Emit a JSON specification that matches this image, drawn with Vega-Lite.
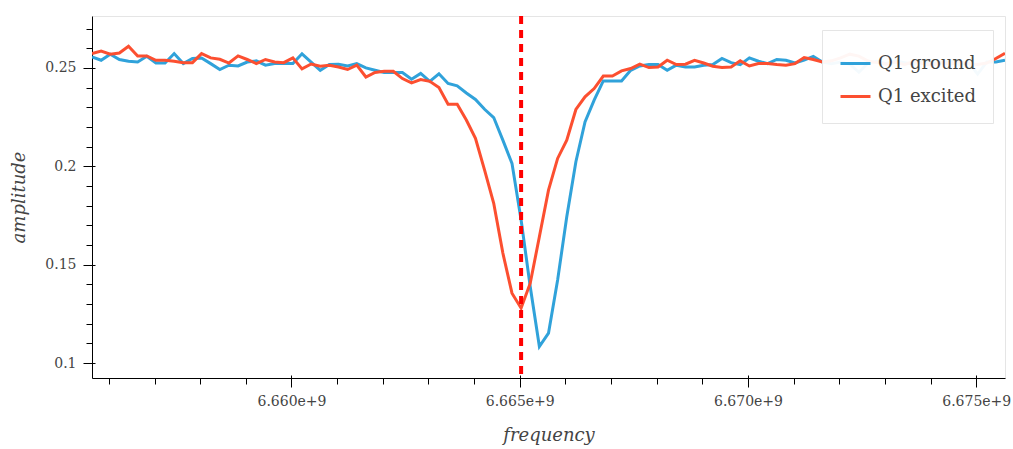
{
  "$schema": "https://vega.github.io/schema/vega-lite/v6.json",
  "width": 913,
  "height": 362,
  "autosize": {"type": "none"},
  "padding": {"left": 92, "top": 16, "right": 8, "bottom": 71},
  "background": "white",
  "config": {
    "view": {"stroke": "#e5e5e5", "strokeWidth": 1},
    "font": "DejaVu Serif",
    "axis": {"grid": false, "domainColor": "#000000", "tickColor": "#000000", "labelFont": "DejaVu Serif", "labelFontSize": 14, "labelColor": "#444444", "titleFont": "DejaVu Serif", "titleFontSize": 18, "titleFontStyle": "italic", "titleFontWeight": "normal", "titleColor": "#444444"}
  },
  "data": {
    "values": [
      {"f": 6655630000, "Q1 ground": 0.2556, "Q1 excited": 0.2573},
      {"f": 6655830000, "Q1 ground": 0.2539, "Q1 excited": 0.2586},
      {"f": 6656030000, "Q1 ground": 0.2570, "Q1 excited": 0.2570},
      {"f": 6656230000, "Q1 ground": 0.2543, "Q1 excited": 0.2576},
      {"f": 6656430000, "Q1 ground": 0.2534, "Q1 excited": 0.2610},
      {"f": 6656630000, "Q1 ground": 0.2530, "Q1 excited": 0.2561},
      {"f": 6656830000, "Q1 ground": 0.2559, "Q1 excited": 0.2561},
      {"f": 6657030000, "Q1 ground": 0.2525, "Q1 excited": 0.2539},
      {"f": 6657230000, "Q1 ground": 0.2525, "Q1 excited": 0.2539},
      {"f": 6657430000, "Q1 ground": 0.2573, "Q1 excited": 0.2534},
      {"f": 6657630000, "Q1 ground": 0.2522, "Q1 excited": 0.2527},
      {"f": 6657830000, "Q1 ground": 0.2548, "Q1 excited": 0.2527},
      {"f": 6658030000, "Q1 ground": 0.2551, "Q1 excited": 0.2573},
      {"f": 6658230000, "Q1 ground": 0.2522, "Q1 excited": 0.2551},
      {"f": 6658430000, "Q1 ground": 0.2492, "Q1 excited": 0.2544},
      {"f": 6658630000, "Q1 ground": 0.2514, "Q1 excited": 0.2525},
      {"f": 6658830000, "Q1 ground": 0.2510, "Q1 excited": 0.2561},
      {"f": 6659030000, "Q1 ground": 0.2530, "Q1 excited": 0.2543},
      {"f": 6659230000, "Q1 ground": 0.2536, "Q1 excited": 0.2522},
      {"f": 6659430000, "Q1 ground": 0.2514, "Q1 excited": 0.2543},
      {"f": 6659630000, "Q1 ground": 0.2522, "Q1 excited": 0.2530},
      {"f": 6659830000, "Q1 ground": 0.2522, "Q1 excited": 0.2527},
      {"f": 6660030000, "Q1 ground": 0.2522, "Q1 excited": 0.2551},
      {"f": 6660230000, "Q1 ground": 0.2572, "Q1 excited": 0.2495},
      {"f": 6660430000, "Q1 ground": 0.2530, "Q1 excited": 0.2520},
      {"f": 6660630000, "Q1 ground": 0.2488, "Q1 excited": 0.2509},
      {"f": 6660830000, "Q1 ground": 0.2517, "Q1 excited": 0.2514},
      {"f": 6661030000, "Q1 ground": 0.2519, "Q1 excited": 0.2505},
      {"f": 6661230000, "Q1 ground": 0.2510, "Q1 excited": 0.2492},
      {"f": 6661430000, "Q1 ground": 0.2522, "Q1 excited": 0.2514},
      {"f": 6661630000, "Q1 ground": 0.2500, "Q1 excited": 0.2454},
      {"f": 6661830000, "Q1 ground": 0.2488, "Q1 excited": 0.2477},
      {"f": 6662030000, "Q1 ground": 0.2477, "Q1 excited": 0.2483},
      {"f": 6662230000, "Q1 ground": 0.2477, "Q1 excited": 0.2483},
      {"f": 6662430000, "Q1 ground": 0.2477, "Q1 excited": 0.2446},
      {"f": 6662630000, "Q1 ground": 0.2443, "Q1 excited": 0.2424},
      {"f": 6662830000, "Q1 ground": 0.2472, "Q1 excited": 0.2441},
      {"f": 6663030000, "Q1 ground": 0.2432, "Q1 excited": 0.2432},
      {"f": 6663230000, "Q1 ground": 0.2470, "Q1 excited": 0.2400},
      {"f": 6663430000, "Q1 ground": 0.2421, "Q1 excited": 0.2316},
      {"f": 6663630000, "Q1 ground": 0.2409, "Q1 excited": 0.2316},
      {"f": 6663830000, "Q1 ground": 0.2373, "Q1 excited": 0.2235},
      {"f": 6664030000, "Q1 ground": 0.2340, "Q1 excited": 0.2142},
      {"f": 6664230000, "Q1 ground": 0.2290, "Q1 excited": 0.1981},
      {"f": 6664430000, "Q1 ground": 0.2248, "Q1 excited": 0.1812},
      {"f": 6664630000, "Q1 ground": 0.2133, "Q1 excited": 0.1559},
      {"f": 6664830000, "Q1 ground": 0.2015, "Q1 excited": 0.1355},
      {"f": 6665030000, "Q1 ground": 0.1727, "Q1 excited": 0.1279},
      {"f": 6665230000, "Q1 ground": 0.1388, "Q1 excited": 0.1406},
      {"f": 6665430000, "Q1 ground": 0.1084, "Q1 excited": 0.1642},
      {"f": 6665630000, "Q1 ground": 0.1152, "Q1 excited": 0.1879},
      {"f": 6665830000, "Q1 ground": 0.1422, "Q1 excited": 0.2040},
      {"f": 6666030000, "Q1 ground": 0.1744, "Q1 excited": 0.2133},
      {"f": 6666230000, "Q1 ground": 0.2023, "Q1 excited": 0.2289},
      {"f": 6666430000, "Q1 ground": 0.2226, "Q1 excited": 0.2353},
      {"f": 6666630000, "Q1 ground": 0.2336, "Q1 excited": 0.2395},
      {"f": 6666830000, "Q1 ground": 0.2434, "Q1 excited": 0.2459},
      {"f": 6667030000, "Q1 ground": 0.2434, "Q1 excited": 0.2459},
      {"f": 6667230000, "Q1 ground": 0.2434, "Q1 excited": 0.2485},
      {"f": 6667430000, "Q1 ground": 0.2488, "Q1 excited": 0.2497},
      {"f": 6667630000, "Q1 ground": 0.2510, "Q1 excited": 0.2519},
      {"f": 6667830000, "Q1 ground": 0.2517, "Q1 excited": 0.2502},
      {"f": 6668030000, "Q1 ground": 0.2517, "Q1 excited": 0.2505},
      {"f": 6668230000, "Q1 ground": 0.2488, "Q1 excited": 0.2539},
      {"f": 6668430000, "Q1 ground": 0.2514, "Q1 excited": 0.2517},
      {"f": 6668630000, "Q1 ground": 0.2505, "Q1 excited": 0.2519},
      {"f": 6668830000, "Q1 ground": 0.2505, "Q1 excited": 0.2539},
      {"f": 6669030000, "Q1 ground": 0.2514, "Q1 excited": 0.2525},
      {"f": 6669230000, "Q1 ground": 0.2517, "Q1 excited": 0.2509},
      {"f": 6669430000, "Q1 ground": 0.2548, "Q1 excited": 0.2502},
      {"f": 6669630000, "Q1 ground": 0.2527, "Q1 excited": 0.2505},
      {"f": 6669830000, "Q1 ground": 0.2517, "Q1 excited": 0.2536},
      {"f": 6670030000, "Q1 ground": 0.2551, "Q1 excited": 0.2510},
      {"f": 6670230000, "Q1 ground": 0.2534, "Q1 excited": 0.2522},
      {"f": 6670430000, "Q1 ground": 0.2522, "Q1 excited": 0.2522},
      {"f": 6670630000, "Q1 ground": 0.2543, "Q1 excited": 0.2517},
      {"f": 6670830000, "Q1 ground": 0.2539, "Q1 excited": 0.2514},
      {"f": 6671030000, "Q1 ground": 0.2525, "Q1 excited": 0.2522},
      {"f": 6671230000, "Q1 ground": 0.2540, "Q1 excited": 0.2553},
      {"f": 6671430000, "Q1 ground": 0.2559, "Q1 excited": 0.2543},
      {"f": 6671630000, "Q1 ground": 0.2530, "Q1 excited": 0.2530},
      {"f": 6671830000, "Q1 ground": 0.2522, "Q1 excited": 0.2536},
      {"f": 6672030000, "Q1 ground": 0.2530, "Q1 excited": 0.2551},
      {"f": 6672230000, "Q1 ground": 0.2519, "Q1 excited": 0.2570},
      {"f": 6672430000, "Q1 ground": 0.2478, "Q1 excited": 0.2560},
      {"f": 6672630000, "Q1 ground": 0.2525, "Q1 excited": 0.2535},
      {"f": 6672830000, "Q1 ground": 0.2534, "Q1 excited": 0.2527},
      {"f": 6673030000, "Q1 ground": 0.2522, "Q1 excited": 0.2519},
      {"f": 6673230000, "Q1 ground": 0.2536, "Q1 excited": 0.2530},
      {"f": 6673430000, "Q1 ground": 0.2527, "Q1 excited": 0.2517},
      {"f": 6673630000, "Q1 ground": 0.2519, "Q1 excited": 0.2534},
      {"f": 6673830000, "Q1 ground": 0.2540, "Q1 excited": 0.2522},
      {"f": 6674030000, "Q1 ground": 0.2522, "Q1 excited": 0.2514},
      {"f": 6674230000, "Q1 ground": 0.2530, "Q1 excited": 0.2527},
      {"f": 6674430000, "Q1 ground": 0.2536, "Q1 excited": 0.2519},
      {"f": 6674630000, "Q1 ground": 0.2518, "Q1 excited": 0.2530},
      {"f": 6674830000, "Q1 ground": 0.2527, "Q1 excited": 0.2522},
      {"f": 6675030000, "Q1 ground": 0.2469, "Q1 excited": 0.2517},
      {"f": 6675230000, "Q1 ground": 0.2530, "Q1 excited": 0.2525},
      {"f": 6675430000, "Q1 ground": 0.2530, "Q1 excited": 0.2548},
      {"f": 6675630000, "Q1 ground": 0.2539, "Q1 excited": 0.2575}
    ]
  },
  "transform": [{"fold": ["Q1 ground", "Q1 excited"], "as": ["series", "amplitude"]}],
  "layer": [
    {
      "mark": {"type": "line", "strokeWidth": 3, "clip": true},
      "encoding": {
        "x": {
          "field": "f", "type": "quantitative",
          "scale": {"domain": [6655630000, 6675630000], "nice": false, "zero": false},
          "axis": {"orient": "bottom", "values": [6660000000, 6665000000, 6670000000, 6675000000], "format": ".3e", "tickSize": 9, "labelPadding": 7, "title": "frequency", "titlePadding": 18}
        },
        "y": {
          "field": "amplitude", "type": "quantitative",
          "scale": {"domain": [0.0924, 0.2764], "nice": false, "zero": false},
          "axis": {"orient": "left", "values": [0.1, 0.15, 0.2, 0.25], "format": "~g", "tickSize": 9, "labelPadding": 7, "title": "amplitude", "titlePadding": 16}
        },
        "color": {
          "field": "series", "type": "nominal",
          "scale": {"domain": ["Q1 ground", "Q1 excited"], "range": ["#30a2da", "#fc4f30"]},
          "legend": {"orient": "none", "legendX": 730, "legendY": 14, "title": null, "symbolType": "stroke", "symbolSize": 900, "symbolStrokeWidth": 3, "labelFont": "DejaVu Serif", "labelFontSize": 18, "labelColor": "#444444", "labelOffset": 6, "padding": 17, "rowPadding": 7, "fillColor": "rgba(255,255,255,0.95)", "strokeColor": "#e5e5e5", "cornerRadius": 0}
        }
      }
    },
    {
      "mark": {"type": "point", "opacity": 0},
      "encoding": {
        "x": {"field": "f", "type": "quantitative", "axis": {"orient": "bottom", "values": [6656000000, 6657000000, 6658000000, 6659000000, 6661000000, 6662000000, 6663000000, 6664000000, 6666000000, 6667000000, 6668000000, 6669000000, 6671000000, 6672000000, 6673000000, 6674000000], "labels": false, "domain": false, "tickSize": 6, "title": null}},
        "y": {"field": "amplitude", "type": "quantitative", "axis": {"orient": "left", "values": [0.11, 0.12, 0.13, 0.14, 0.16, 0.17, 0.18, 0.19, 0.21, 0.22, 0.23, 0.24, 0.26, 0.27], "labels": false, "domain": false, "tickSize": 6, "title": null}}
      }
    },
    {
      "mark": {"type": "point", "opacity": 0},
      "encoding": {
        "x": {"field": "f", "type": "quantitative", "axis": {"orient": "bottom", "values": [6660000000, 6665000000, 6670000000, 6675000000], "labels": false, "domain": false, "tickSize": -3, "title": null}},
        "y": {"field": "amplitude", "type": "quantitative", "axis": {"orient": "left", "values": [0.1, 0.15, 0.2, 0.25], "labels": false, "domain": false, "tickSize": -3, "title": null}}
      }
    },
    {
      "data": {"values": [{"f": 6665030000}]},
      "mark": {"type": "rule", "color": "#ff0000", "strokeWidth": 4, "strokeDash": [8, 6]},
      "encoding": {
        "x": {"field": "f", "type": "quantitative", "axis": null}
      }
    }
  ],
  "resolve": {"axis": {"x": "independent", "y": "independent"}}
}
